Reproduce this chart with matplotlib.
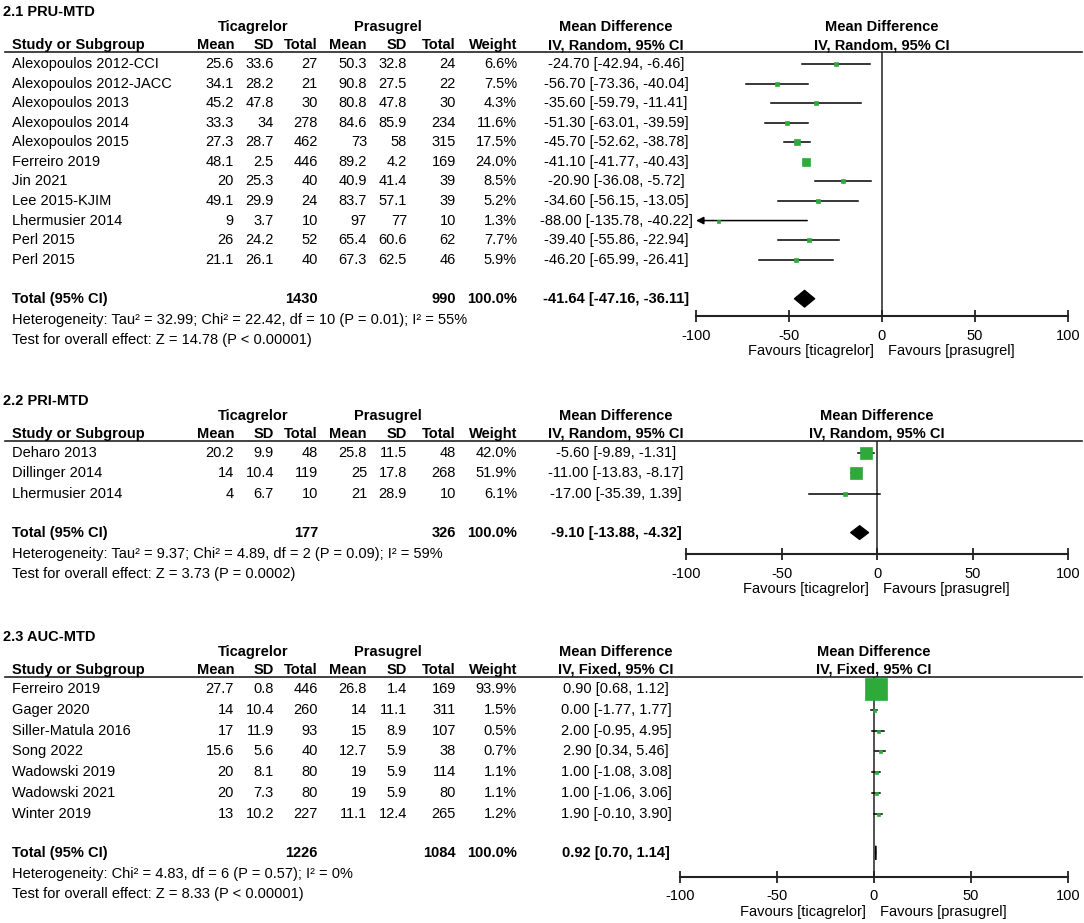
import matplotlib
matplotlib.use("Agg")
import matplotlib.pyplot as plt

plt.rcParams['font.family'] = ['Liberation Sans', 'DejaVu Sans']

# ---- 2.1 PRU-MTD ----
p1_study = ["Alexopoulos 2012-CCI", "Alexopoulos 2012-JACC", "Alexopoulos 2013",
            "Alexopoulos 2014", "Alexopoulos 2015", "Ferreiro 2019", "Jin 2021",
            "Lee 2015-KJIM", "Lhermusier 2014", "Perl 2015", "Perl 2015"]
p1_t_mean = [25.6, 34.1, 45.2, 33.3, 27.3, 48.1, 20, 49.1, 9, 26, 21.1]
p1_t_sd = [33.6, 28.2, 47.8, 34, 28.7, 2.5, 25.3, 29.9, 3.7, 24.2, 26.1]
p1_t_n = [27, 21, 30, 278, 462, 446, 40, 24, 10, 52, 40]
p1_p_mean = [50.3, 90.8, 80.8, 84.6, 73, 89.2, 40.9, 83.7, 97, 65.4, 67.3]
p1_p_sd = [32.8, 27.5, 47.8, 85.9, 58, 4.2, 41.4, 57.1, 77, 60.6, 62.5]
p1_p_n = [24, 22, 30, 234, 315, 169, 39, 39, 10, 62, 46]
p1_weight = [6.6, 7.5, 4.3, 11.6, 17.5, 24.0, 8.5, 5.2, 1.3, 7.7, 5.9]
p1_md = [-24.70, -56.70, -35.60, -51.30, -45.70, -41.10, -20.90, -34.60, -88.00, -39.40, -46.20]
p1_lo = [-42.94, -73.36, -59.79, -63.01, -52.62, -41.77, -36.08, -56.15, -135.78, -55.86, -65.99]
p1_hi = [-6.46, -40.04, -11.41, -39.59, -38.78, -40.43, -5.72, -13.05, -40.22, -22.94, -26.41]
p1_total = [1430, 990, 100.0, -41.64, -47.16, -36.11]
p1_het = "Heterogeneity: Tau² = 32.99; Chi² = 22.42, df = 10 (P = 0.01); I² = 55%"
p1_test = "Test for overall effect: Z = 14.78 (P < 0.00001)"

# ---- 2.2 PRI-MTD ----
p2_study = ["Deharo 2013", "Dillinger 2014", "Lhermusier 2014"]
p2_t_mean = [20.2, 14, 4]
p2_t_sd = [9.9, 10.4, 6.7]
p2_t_n = [48, 119, 10]
p2_p_mean = [25.8, 25, 21]
p2_p_sd = [11.5, 17.8, 28.9]
p2_p_n = [48, 268, 10]
p2_weight = [42.0, 51.9, 6.1]
p2_md = [-5.60, -11.00, -17.00]
p2_lo = [-9.89, -13.83, -35.39]
p2_hi = [-1.31, -8.17, 1.39]
p2_total = [177, 326, 100.0, -9.10, -13.88, -4.32]
p2_het = "Heterogeneity: Tau² = 9.37; Chi² = 4.89, df = 2 (P = 0.09); I² = 59%"
p2_test = "Test for overall effect: Z = 3.73 (P = 0.0002)"

# ---- 2.3 AUC-MTD ----
p3_study = ["Ferreiro 2019", "Gager 2020", "Siller-Matula 2016", "Song 2022",
            "Wadowski 2019", "Wadowski 2021", "Winter 2019"]
p3_t_mean = [27.7, 14, 17, 15.6, 20, 20, 13]
p3_t_sd = [0.8, 10.4, 11.9, 5.6, 8.1, 7.3, 10.2]
p3_t_n = [446, 260, 93, 40, 80, 80, 227]
p3_p_mean = [26.8, 14, 15, 12.7, 19, 19, 11.1]
p3_p_sd = [1.4, 11.1, 8.9, 5.9, 5.9, 5.9, 12.4]
p3_p_n = [169, 311, 107, 38, 114, 80, 265]
p3_weight = [93.9, 1.5, 0.5, 0.7, 1.1, 1.1, 1.2]
p3_md = [0.90, 0.00, 2.00, 2.90, 1.00, 1.00, 1.90]
p3_lo = [0.68, -1.77, -0.95, 0.34, -1.08, -1.06, -0.10]
p3_hi = [1.12, 1.77, 4.95, 5.46, 3.08, 3.06, 3.90]
p3_total = [1226, 1084, 100.0, 0.92, 0.70, 1.14]
p3_het = "Heterogeneity: Chi² = 4.83, df = 6 (P = 0.57); I² = 0%"
p3_test = "Test for overall effect: Z = 8.33 (P < 0.00001)"

ticks = [-100, -50, 0, 50, 100]

W, H = 1084, 923
GREEN = '#2EAA3A'
FS = 10.5

fig = plt.figure(figsize=(W / 100, H / 100), dpi=100)
# overlay in pixel coords for the table text
tx = fig.add_axes([0, 0, 1, 1], zorder=5)
tx.set_xlim(0, W)
tx.set_ylim(H, 0)
tx.axis('off')
tx.patch.set_alpha(0)

# column right edges
col_x = [234, 274, 318, 367, 407, 456, 517]
ci_x = 616


def fmt(v):
    return f"{v:g}"


def panel(title, method, top, row_sp, fx0, fx1, axis_y, rows, total, het, test, sq_k, dia_h):
    study, tm, tsd, tn, pm, psd, pn, wt, md, lo, hi = rows
    y_title = top
    y_h1 = top + 15
    y_h2 = top + 33
    y_line = top + 40
    y_rows = [y_line + 12 + row_sp * i for i in range(len(study))]
    y_tot = y_rows[-1] + 39
    y_het = y_tot + 21
    y_test = y_het + 20

    tx.text(3, y_title, title, fontsize=FS, fontweight='bold', va='center')
    tx.text(253, y_h1, "Ticagrelor", fontsize=FS, fontweight='bold', va='center', ha='center')
    tx.text(388, y_h1, "Prasugrel", fontsize=FS, fontweight='bold', va='center', ha='center')
    tx.text(ci_x, y_h1, "Mean Difference", fontsize=FS, fontweight='bold', va='center', ha='center')
    tx.text(12, y_h2, "Study or Subgroup", fontsize=FS, fontweight='bold', va='center')
    for x, lab in zip(col_x, ["Mean", "SD", "Total", "Mean", "SD", "Total", "Weight"]):
        tx.text(x, y_h2, lab, fontsize=FS, fontweight='bold', va='center', ha='right')
    tx.text(ci_x, y_h2, f"IV, {method}, 95% CI", fontsize=FS, fontweight='bold', va='center', ha='center')
    tx.plot([5, 1082], [y_line, y_line], color='#222222', lw=1.2)

    for i, y in enumerate(y_rows):
        tx.text(12, y, study[i], fontsize=FS, va='center')
        vals = [fmt(tm[i]), fmt(tsd[i]), str(tn[i]), fmt(pm[i]), fmt(psd[i]), str(pn[i]),
                f"{wt[i]:.1f}%"]
        for x, v in zip(col_x, vals):
            tx.text(x, y, v, fontsize=FS, va='center', ha='right')
        tx.text(ci_x, y, f"{md[i]:.2f} [{lo[i]:.2f}, {hi[i]:.2f}]", fontsize=FS,
                va='center', ha='center')

    tx.text(12, y_tot, "Total (95% CI)", fontsize=FS, fontweight='bold', va='center')
    tx.text(col_x[2], y_tot, str(total[0]), fontsize=FS, fontweight='bold', va='center', ha='right')
    tx.text(col_x[5], y_tot, str(total[1]), fontsize=FS, fontweight='bold', va='center', ha='right')
    tx.text(col_x[6], y_tot, f"{total[2]:.1f}%", fontsize=FS, fontweight='bold', va='center', ha='right')
    tx.text(ci_x, y_tot, f"{total[3]:.2f} [{total[4]:.2f}, {total[5]:.2f}]", fontsize=FS,
            fontweight='bold', va='center', ha='center')
    tx.text(12, y_het, het, fontsize=FS, va='center')
    tx.text(12, y_test, test, fontsize=FS, va='center')

    # forest plot axes, x in mean-difference units, y in pixel rows
    ax = fig.add_axes([fx0 / W, 1 - axis_y / H, (fx1 - fx0) / W, (axis_y - y_line) / H])
    ax.set_xlim(-100, 100)
    ax.set_ylim(axis_y, y_line)
    ax.patch.set_alpha(0)
    for s in ['top', 'left', 'right']:
        ax.spines[s].set_visible(False)
    ax.spines['bottom'].set_color('#222222')
    ax.spines['bottom'].set_linewidth(1.5)
    ax.set_yticks([])
    ax.set_xticks(ticks)
    ax.set_xticklabels([str(t) for t in ticks], fontsize=FS)
    ax.tick_params(axis='x', direction='inout', length=8, width=1.3, color='#222222', pad=5)
    ax.axvline(0, color='#222222', lw=1.1)

    for i, y in enumerate(y_rows):
        if lo[i] < -100:
            ax.annotate('', xy=(-100, y), xytext=(hi[i], y),
                        arrowprops=dict(arrowstyle='-|>', color='black', lw=1.1,
                                        mutation_scale=11, shrinkA=0, shrinkB=0))
        else:
            ax.plot([lo[i], hi[i]], [y, y], color='black', lw=1.1)
        size_px = max(3.0, sq_k * wt[i] ** 0.5)
        ax.plot(md[i], y, marker='s', ms=size_px * 0.72, color=GREEN, mec=GREEN, mew=0.5,
                zorder=3)

    ax.fill([total[4], total[3], total[5], total[3]],
            [y_tot, y_tot - dia_h, y_tot, y_tot + dia_h], color='black', lw=0.8, ec='black')

    zx = fx0 + (fx1 - fx0) / 2
    tx.text(zx, y_h1, "Mean Difference", fontsize=FS, fontweight='bold',
            va='center', ha='center')
    tx.text(zx, y_h2, f"IV, {method}, 95% CI", fontsize=FS, fontweight='bold',
            va='center', ha='center')
    tx.text(zx - 8, axis_y + 35, "Favours [ticagrelor]", fontsize=FS, va='center', ha='right')
    tx.text(zx + 6, axis_y + 35, "Favours [prasugrel]", fontsize=FS, va='center', ha='left')


panel("2.1 PRU-MTD", "Random", 12, 19.57, 696, 1068, 316,
      (p1_study, p1_t_mean, p1_t_sd, p1_t_n, p1_p_mean, p1_p_sd, p1_p_n,
       p1_weight, p1_md, p1_lo, p1_hi), p1_total, p1_het, p1_test, 1.45, 8.5)
panel("2.2 PRI-MTD", "Random", 401, 20.3, 686, 1068, 554,
      (p2_study, p2_t_mean, p2_t_sd, p2_t_n, p2_p_mean, p2_p_sd, p2_p_n,
       p2_weight, p2_md, p2_lo, p2_hi), p2_total, p2_het, p2_test, 1.8, 7)
panel("2.3 AUC-MTD", "Fixed", 637, 20.8, 680, 1068, 877,
      (p3_study, p3_t_mean, p3_t_sd, p3_t_n, p3_p_mean, p3_p_sd, p3_p_n,
       p3_weight, p3_md, p3_lo, p3_hi), p3_total, p3_het, p3_test, 2.37, 7)

fig.savefig("out.png", dpi=100)
